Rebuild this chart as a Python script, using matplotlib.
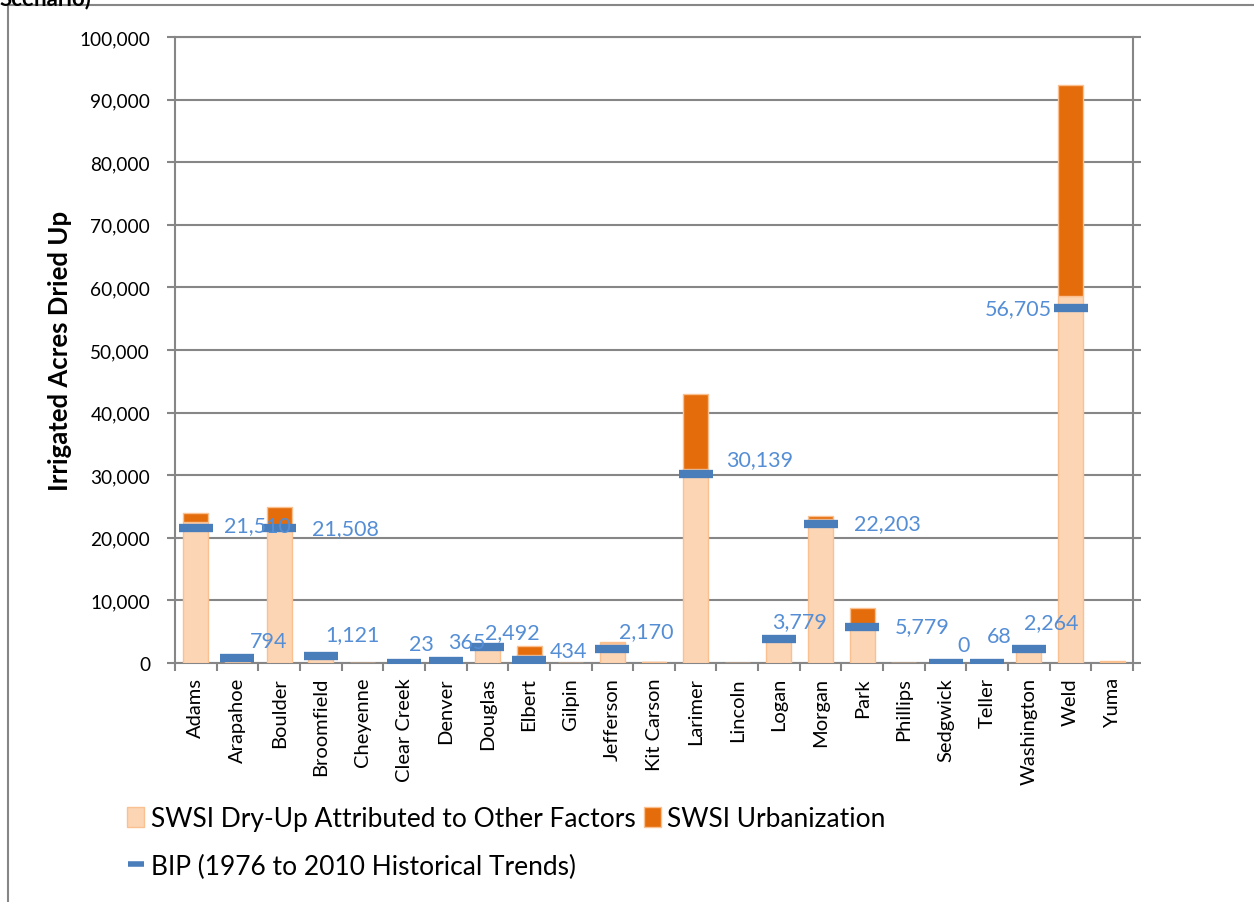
#!/usr/bin/env python3

"""Irrigated acres dried up by county: SWSI vs BIP"""

import matplotlib

matplotlib.use("Agg")
import matplotlib.pyplot as plt
from matplotlib.lines import Line2D
from matplotlib.patches import Patch, Rectangle
import numpy

counties = [
    "Adams", "Arapahoe", "Boulder", "Broomfield", "Cheyenne", "Clear Creek",
    "Denver", "Douglas", "Elbert", "Gilpin", "Jefferson", "Kit Carson",
    "Larimer", "Lincoln", "Logan", "Morgan", "Park", "Phillips", "Sedgwick",
    "Teller", "Washington", "Weld", "Yuma",
]
other_factors = [
    22600, 300, 22000, 900, 0, 0,
    0, 2500, 1250, 0, 3200, 100,
    31000, 0, 3900, 23000, 6000, 0, 0,
    0, 2000, 58600, 200,
]
urbanization = [
    1400, 0, 2900, 0, 0, 0,
    0, 0, 1450, 0, 200, 0,
    12000, 0, 0, 500, 2800, 0, 0,
    0, 0, 33700, 60,
]
# None = no BIP value for that county
bip = [
    21510, 794, 21508, 1121, None, 23,
    365, 2492, 434, None, 2170, None,
    30139, None, 3779, 22203, 5779, None, 0,
    68, 2264, 56705, None,
]

# hand-placed data label offsets (pixels from category centre / value)
label_offsets = {
    "Adams": (28, 3), "Arapahoe": (12, 17), "Boulder": (33, 0),
    "Broomfield": (5, 22), "Clear Creek": (5, 19), "Denver": (2, 19),
    "Douglas": (-2, 15), "Elbert": (21, 9), "Jefferson": (7, 18),
    "Larimer": (30, 15), "Logan": (-7, 18), "Morgan": (33, 1),
    "Park": (33, 1), "Sedgwick": (12, 18), "Teller": (0, 27),
    "Washington": (-5, 27), "Weld": (-19, 0),
}
right_aligned = {"Weld"}

PEACH = "#FCD5B5"
PEACH_EDGE = "#FAC090"
ORANGE = "#E46C0A"
BLUE = "#4A7EBB"
LABEL_BLUE = "#558ED5"
GRID = "#868686"


def main() -> None:
    plt.rcParams["font.family"] = ["Lato", "DejaVu Sans"]
    fig = plt.figure(figsize=(12.54, 9.03), dpi=100)
    ax = fig.add_axes([175 / 1254, 1 - 664 / 903, 958 / 1254, 626 / 903])

    x = numpy.arange(len(counties))
    other = numpy.array(other_factors, dtype=float)
    urban = numpy.array(urbanization, dtype=float)

    ax.bar(x, other, width=0.6, color=PEACH, edgecolor=PEACH_EDGE,
           linewidth=1, zorder=3)
    ax.bar(x, urban, width=0.6, bottom=other, color=ORANGE,
           edgecolor=PEACH_EDGE, linewidth=1, zorder=3)

    bx = [i for i, v in enumerate(bip) if v is not None]
    by = [bip[i] for i in bx]
    ax.plot(bx, by, linestyle="none", marker="_", markersize=24,
            markeredgewidth=6, color=BLUE, zorder=4)

    for i, v in zip(bx, by):
        dx, dy = label_offsets[counties[i]]
        ax.annotate(f"{v:,}", (i, v), xytext=(dx, dy),
                    textcoords="offset pixels",
                    ha="right" if counties[i] in right_aligned else "left",
                    va="center", color=LABEL_BLUE, fontsize=15.5, zorder=5)

    ax.set_xlim(-0.5, len(counties) - 0.5)
    ax.set_ylim(0, 100000)
    ax.set_yticks(numpy.arange(0, 100001, 10000))
    ax.set_yticklabels([f"{t:,}" for t in range(0, 100001, 10000)])
    ax.yaxis.grid(True, color=GRID, linewidth=1.5, zorder=0)
    ax.set_axisbelow(True)

    ax.set_xticks(x)
    ax.set_xticklabels(counties, rotation=90)
    ax.set_xticks(numpy.arange(-0.5, len(counties)), minor=True)
    ax.tick_params(axis="x", which="major", length=0, pad=10, labelsize=14.5)
    ax.tick_params(axis="x", which="minor", length=6, width=1.5,
                   color=GRID, direction="out")
    ax.tick_params(axis="y", which="major", length=6, width=1.5, color=GRID,
                   direction="out", labelsize=13.7, pad=12, right=True)

    for spine in ax.spines.values():
        spine.set_color(GRID)
        spine.set_linewidth(1.5)

    ax.set_ylabel("Irrigated Acres Dried Up", fontsize=18.5, fontweight="bold")
    ax.yaxis.set_label_coords(-0.108, 0.5)

    handles = [
        Patch(facecolor=PEACH, edgecolor=PEACH_EDGE),
        Line2D([], [], linestyle="none", marker="_", markersize=12,
               markeredgewidth=4, color=BLUE),
        Patch(facecolor=ORANGE, edgecolor=PEACH_EDGE),
    ]
    names = [
        "SWSI Dry-Up Attributed to Other Factors",
        "BIP (1976 to 2010 Historical Trends)",
        "SWSI Urbanization",
    ]
    fig.legend(handles, names, ncol=2, loc="upper left",
               bbox_to_anchor=(114 / 1254, 1 - 794 / 903), frameon=False,
               fontsize=19, handlelength=0.65, handleheight=0.8,
               handletextpad=0.25, columnspacing=0.3, labelspacing=0.85,
               borderpad=0)

    # outer chart frame (partially cut off in the original)
    fig.patches.append(Rectangle((8 / 1254, -0.1), 1.2, 1.1 - 6 / 903,
                                 transform=fig.transFigure, fill=False,
                                 edgecolor=GRID, linewidth=1.5))
    fig.text(0.0, 1 - 5 / 903, "Scenario)", fontsize=16, fontweight="bold",
             va="baseline", ha="left")

    fig.savefig("out.png", dpi=100)


if __name__ == "__main__":
    main()
